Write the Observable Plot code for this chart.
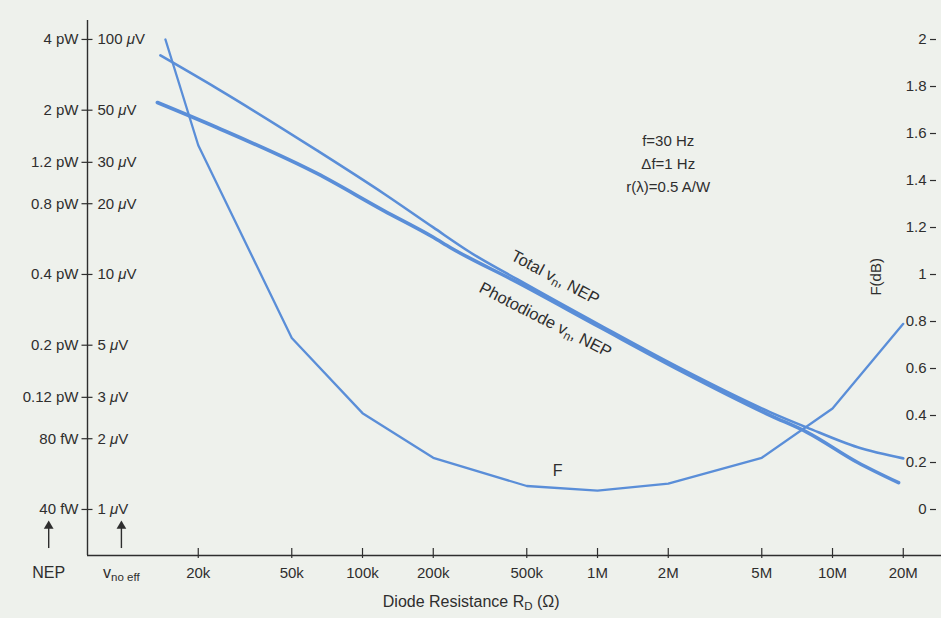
<!DOCTYPE html>
<html><head><meta charset="utf-8">
<script src="https://cdn.jsdelivr.net/npm/d3@7"></script>
<script src="https://cdn.jsdelivr.net/npm/@observablehq/plot@0.6"></script>
<style>
html,body{margin:0;padding:0;background:#eef1ec;}
#chart{position:relative;width:941px;height:618px;}
#chart svg{position:absolute;left:0;top:0;overflow:visible;}
</style></head><body><div id="chart"></div>
<script>
// ---- data ----
const resistanceTicks = [2e4, 5e4, 1e5, 2e5, 5e5, 1e6, 2e6, 5e6, 1e7, 2e7];
const resistanceLabels = ["20k", "50k", "100k", "200k", "500k", "1M", "2M", "5M", "10M", "20M"];
const noiseTicks = [1, 2, 3, 5, 10, 20, 30, 50, 100];            // µV
const nepLabels = ["40 fW", "80 fW", "0.12 pW", "0.2 pW", "0.4 pW", "0.8 pW", "1.2 pW", "2 pW", "4 pW"];
const voltLabels = ["1 ~[μ]V", "2 ~[μ]V", "3 ~[μ]V", "5 ~[μ]V", "10 ~[μ]V", "20 ~[μ]V", "30 ~[μ]V", "50 ~[μ]V", "100 ~[μ]V"];
const fTicks = [0, 0.2, 0.4, 0.6, 0.8, 1, 1.2, 1.4, 1.6, 1.8, 2];
const fTickLabels = ["0", "0.2", "0.4", "0.6", "0.8", "1", "1.2", "1.4", "1.6", "1.8", "2"];

// Total noise voltage (µV) vs diode resistance (Ω)
const totalR = [13.8e3, 24e3, 64e3, 123e3, 200e3, 288e3, 457e3, 1.03e6, 2.26e6, 5.45e6, 7.8e6, 12.8e6, 20e6];
const totalV = [85.5, 61.9, 33.7, 22.1, 15.85, 12.4, 9.52, 6.07, 3.98, 2.59, 2.23, 1.84, 1.65];
// Photodiode noise voltage (µV)
const photoR = [13.4e3, 24e3, 64e3, 123e3, 200e3, 237e3, 457e3, 1.03e6, 2.26e6, 5.45e6, 7.8e6, 12.8e6, 19.1e6];
const photoV = [53.9, 42.2, 26.9, 18.7, 14.4, 13.0, 9.25, 5.95, 3.90, 2.51, 2.13, 1.585, 1.30];
// Noise figure F (dB)
const fR = [14.5e3, 20e3, 50e3, 1e5, 2e5, 5e5, 1e6, 2e6, 5e6, 1e7, 2e7];
const fDb = [2.0, 1.55, 0.73, 0.41, 0.22, 0.10, 0.08, 0.11, 0.22, 0.43, 0.79];

// scale extents
const rDomain = [6757, 2.909e7];
const vDomain = [0.637, 120.4];
const fDomain = [-0.1957, 2.0809];

// annotations (data space)
const conditionsNote = [{r: 2.0e6, v: 30.3, text: "f=30 Hz\nΔf=1 Hz\nr(λ)=0.5 A/W"}];
const curveLabels = [
  {r: 6.6e5, v: 9.7, text: "Total v_[n], NEP", rotate: 28},
  {r: 6.0e5, v: 6.4, text: "Photodiode v_[n], NEP", rotate: 27}
];
const colHeads = [{r: 4.62e3, text: "NEP"}, {r: 9.42e3, text: "v_[no eff]"}];
const arrowSpan = {from: 0.682, to: 0.83, head: 0.85};
const fLabel = [{r: 6.76e5, f: 0.166, text: "F"}];
const fAxisLabel = [{r: 1.54e7, f: 0.99, text: "F(dB)"}];
const xTitle = [{r: 2.9e5, text: "Diode Resistance R_[D] (Ω)"}];

// ---- build ----
const total = totalR.map((r, i) => ({r, v: totalV[i]}));
const photo = photoR.map((r, i) => ({r, v: photoV[i]}));
const fCurve = fR.map((r, i) => ({r, f: fDb[i]}));
const fLab = new Map(fTicks.map((d, i) => [d, fTickLabels[i]]));

const blue = "#5a8ed8";
const ink = "#2e2e2e";
const font = "'Liberation Sans', Arial, Helvetica, sans-serif";
const fs = 15;
const txt = {fill: ink, fontSize: fs, letterSpacing: 0.4};
const common = {
  width: 941, height: 618, marginLeft: 87, marginRight: 0, marginTop: 20, marginBottom: 63,
  style: {background: "transparent", fontFamily: font, fontSize: fs + "px", color: ink, overflow: "visible"}
};

const plotA = Plot.plot({
  ...common,
  x: {type: "log", domain: rDomain, label: null},
  y: {type: "log", domain: vDomain, label: null},
  marks: [
    Plot.ruleX([rDomain[0]], {stroke: ink, strokeWidth: 1.4}),
    Plot.ruleY([vDomain[0]], {stroke: ink, strokeWidth: 1.4}),
    Plot.axisX({ticks: resistanceTicks, tickFormat: () => "", tickSize: 10, dy: -7, strokeWidth: 1.2}),
    Plot.text(resistanceTicks, {x: d => d, frameAnchor: "bottom", dy: 22, text: (d, i) => resistanceLabels[i], ...txt}),
    Plot.axisY({ticks: noiseTicks, tickFormat: () => "", tickSize: 11, dx: 5.5, strokeWidth: 1.2}),
    Plot.text(noiseTicks, {y: d => d, frameAnchor: "left", dx: -9, textAnchor: "end", text: (d, i) => nepLabels[i], ...txt}),
    Plot.text(noiseTicks, {y: d => d, frameAnchor: "left", dx: 10, textAnchor: "start", text: (d, i) => voltLabels[i], ...txt}),
    Plot.line(total, {x: "r", y: "v", stroke: blue, strokeWidth: 2.6, curve: "monotone-x"}),
    Plot.line(photo, {x: "r", y: "v", stroke: blue, strokeWidth: 3.6, curve: "monotone-x"}),
    Plot.text(conditionsNote, {x: "r", y: "v", text: "text", lineHeight: 1.55, ...txt}),
    Plot.text(curveLabels, {x: "r", y: "v", text: "text", rotate: "rotate", fill: ink, fontSize: 16.5, letterSpacing: 1}),
    Plot.ruleX(colHeads, {x: "r", y1: arrowSpan.from, y2: arrowSpan.to, stroke: ink, strokeWidth: 1.4}),
    Plot.dot(colHeads, {x: "r", y: arrowSpan.head, symbol: "triangle", r: 3.6, fill: ink, stroke: "none"}),
    Plot.text(colHeads, {x: "r", frameAnchor: "bottom", dy: 22, text: "text", ...txt, fontSize: 16}),
    Plot.text(xTitle, {x: "r", frameAnchor: "bottom", dy: 51, text: "text", ...txt, fontSize: 16})
  ]
});

const plotB = Plot.plot({
  ...common,
  x: {type: "log", domain: rDomain, label: null, axis: null},
  y: {type: "linear", domain: fDomain, label: null},
  marks: [
    Plot.axisY({anchor: "right", ticks: fTicks, tickFormat: d => fLab.get(d), tickSize: -6, dx: -6, tickPadding: -3, textAnchor: "end", fontSize: fs, strokeWidth: 1.2}),
    Plot.line(fCurve, {x: "r", y: "f", stroke: blue, strokeWidth: 2.3}),
    Plot.text(fLabel, {x: "r", y: "f", text: "text", ...txt, fontSize: 16}),
    Plot.text(fAxisLabel, {x: "r", y: "f", text: "text", rotate: -90, ...txt})
  ]
});

// subscript / italic markup: _[..] -> subscript, ~[..] -> italic
function markup(svg) {
  svg.querySelectorAll("text").forEach(t => {
    const targets = t.querySelectorAll("tspan").length ? Array.from(t.querySelectorAll("tspan")) : [t];
    targets.forEach(node => {
      const s = node.textContent;
      if (!/[_~]\[/.test(s)) return;
      while (node.firstChild) node.removeChild(node.firstChild);
      const re = /([_~])\[(.*?)\]/g;
      let last = 0, m;
      while ((m = re.exec(s))) {
        if (m.index > last) node.appendChild(document.createTextNode(s.slice(last, m.index)));
        const sp = document.createElementNS("http://www.w3.org/2000/svg", "tspan");
        if (m[1] === "_") { sp.setAttribute("baseline-shift", "-28%"); sp.setAttribute("font-size", "72%"); }
        else { sp.setAttribute("font-style", "italic"); }
        sp.textContent = m[2];
        node.appendChild(sp);
        last = re.lastIndex;
      }
      if (last < s.length) node.appendChild(document.createTextNode(s.slice(last)));
    });
  });
}
markup(plotA); markup(plotB);
const chart = document.getElementById("chart");
chart.appendChild(plotA);
chart.appendChild(plotB);
</script>
</body></html>
